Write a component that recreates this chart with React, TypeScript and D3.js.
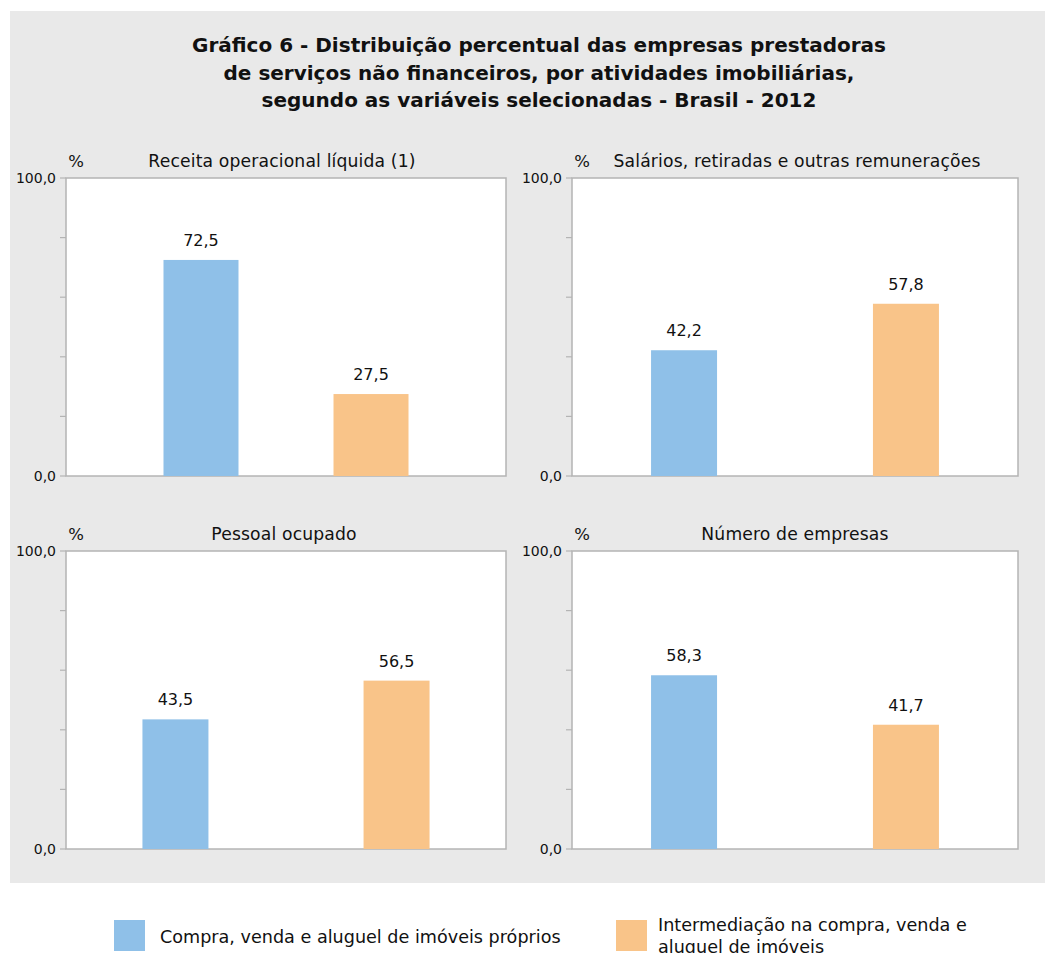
import React from "react";
import * as d3 from "d3";

const titleLines = [
  "Gráfico 6 - Distribuição percentual das empresas prestadoras",
  "de serviços não financeiros, por atividades imobiliárias,",
  "segundo as variáveis selecionadas - Brasil - 2012",
];
const seriesNames = [
  "Compra, venda e aluguel de imóveis próprios",
  "Intermediação na compra, venda e aluguel de imóveis",
];
const seriesColors = ["#8fc0e8", "#f9c489"];
const panelTitles = [
  "Receita operacional líquida (1)",
  "Salários, retiradas e outras remunerações",
  "Pessoal ocupado",
  "Número de empresas",
];
const compraValues = [72.5, 42.2, 43.5, 58.3];
const intermediacaoValues = [27.5, 57.8, 56.5, 41.7];
const yTicks = [0, 20, 40, 60, 80, 100];
const yTickLabels = ["0,0", "", "", "", "", "100,0"];

const font = "'DejaVu Sans', 'Open Sans', sans-serif";
const fmt = (v: number) => v.toFixed(1).replace(".", ",");

const panels = [
  { x0: 66, x1: 506, y0: 178, y1: 476, pad: 0.794, bw: 75, titleX: 282 },
  { x0: 572, x1: 1018, y0: 178, y1: 476, pad: 0.505, bw: 66, titleX: 797 },
  { x0: 66, x1: 506, y0: 551, y1: 849, pad: 0.495, bw: 66, titleX: 284 },
  { x0: 572, x1: 1018, y0: 551, y1: 849, pad: 0.505, bw: 66, titleX: 795 },
];

function Panel({ i }: { i: number }) {
  const p = panels[i];
  const y = d3.scaleLinear().domain([0, 100]).range([p.y1, p.y0]);
  const x = d3.scalePoint<number>().domain([0, 1]).range([p.x0, p.x1]).padding(p.pad);
  const vals = [compraValues[i], intermediacaoValues[i]];
  return (
    <g>
      <rect x={p.x0} y={p.y0} width={p.x1 - p.x0} height={p.y1 - p.y0} fill="#fff" stroke="#b4b4b4" strokeWidth={1.5} />
      {yTicks.map((t, k) => (
        <g key={k}>
          <line x1={p.x0 - 6} x2={p.x0} y1={y(t)} y2={y(t)} stroke="#b4b4b4" strokeWidth={1.2} />
          {yTickLabels[k] && (
            <text x={p.x0 - 10} y={y(t) + 5} textAnchor="end" fontSize={14} fill="#111" fontFamily={font}>
              {yTickLabels[k]}
            </text>
          )}
        </g>
      ))}
      {vals.map((v, k) => (
        <g key={k}>
          <rect x={(x(k) as number) - p.bw / 2} y={y(v)} width={p.bw} height={y(0) - y(v)} fill={seriesColors[k]} />
          <text x={x(k) as number} y={y(v) - 14} textAnchor="middle" fontSize={16} fill="#111" fontFamily={font}>
            {fmt(v)}
          </text>
        </g>
      ))}
      <text x={p.x0 + 10} y={p.y0 - 11} textAnchor="middle" fontSize={16.5} fill="#111" fontFamily={font}>%</text>
      <text x={p.titleX} y={p.y0 - 11} textAnchor="middle" fontSize={17.2} letterSpacing={0.15} fill="#111" fontFamily={font}>
        {panelTitles[i]}
      </text>
    </g>
  );
}

export default function App() {
  return (
    <svg width={1053} height={953} style={{ position: "absolute", left: 0, top: 0 }}>
      <rect x={0} y={0} width={1053} height={953} fill="#fff" />
      <rect x={10} y={11} width={1035} height={872} fill="#e9e9e9" />
      {titleLines.map((t, k) => (
        <text key={k} x={539} y={52 + k * 27.5} textAnchor="middle" fontSize={20} fontWeight="bold" fill="#111" fontFamily={font}>
          {t}
        </text>
      ))}
      {panels.map((_, i) => (
        <Panel key={i} i={i} />
      ))}
      <rect x={114} y={920} width={31} height={31} fill={seriesColors[0]} />
      <text x={160} y={943} fontSize={17.6} fill="#111" fontFamily={font}>{seriesNames[0]}</text>
      <rect x={616} y={920} width={31} height={31} fill={seriesColors[1]} />
      <text x={658} y={931} fontSize={17.6} fill="#111" fontFamily={font}>Intermediação na compra, venda e</text>
      <text x={658} y={953} fontSize={17.6} fill="#111" fontFamily={font}>aluguel de imóveis</text>
    </svg>
  );
}
